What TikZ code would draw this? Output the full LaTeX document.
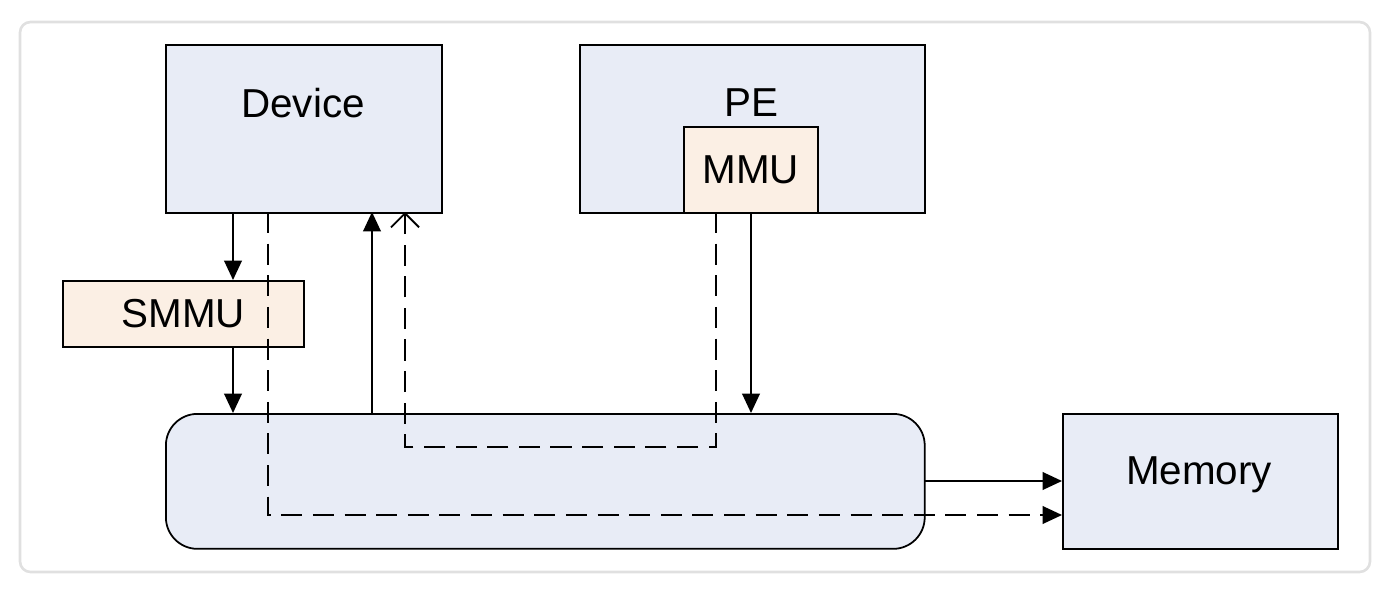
\documentclass[tikz,border=0pt]{standalone}
\usepackage{fontspec}
\setmainfont{Liberation Sans}
\usepackage{tikz}
\usetikzlibrary{arrows.meta}
\definecolor{boxblue}{HTML}{E8ECF6}
\definecolor{boxtan}{HTML}{FBEFE4}
\tikzset{
    blk/.style={draw, line width=1pt, fill=boxblue, inner sep=0pt, font=\fontsize{23}{26}\selectfont},
    tan/.style={draw, line width=1pt, fill=boxtan, inner sep=0pt, font=\fontsize{23}{26}\selectfont},
    arr/.style={line width=1.1pt, -{Triangle[length=11pt, width=10pt]}},
    dashln/.style={line width=1.1pt, dash pattern=on 12pt off 6pt}
}
\begin{document}
\begin{tikzpicture}[x=0.02cm, y=-0.02cm]
    \useasboundingbox (0, 0) rectangle (1390, 592);
    \draw[black!12, line width=1.5pt, rounded corners=6pt] (20, 22) rectangle (1370, 572);

    \node[blk, minimum width=5.52cm, minimum height=3.36cm, anchor=north west] at (165, 44) (dev) {};
    \node at (303, 103) {\fontsize{23}{26}\selectfont Device};
    \node[blk, minimum width=6.9cm, minimum height=3.36cm, anchor=north west] at (579, 44) (pe) {};
    \node at (751, 103) {\fontsize{23}{26}\selectfont PE};
    \node[tan, minimum width=2.68cm, minimum height=1.72cm, anchor=north west] at (683, 126) (mmu) {MMU};
    \node[tan, minimum width=4.82cm, minimum height=1.32cm, anchor=north west] at (62, 280) (smmu) {SMMU};
    \node[blk, rounded corners=18pt, minimum width=15.18cm, minimum height=2.7cm, anchor=north west] at (165, 413) (bus) {};
    \node[blk, minimum width=5.5cm, minimum height=2.7cm, anchor=north west] at (1062, 413) (mem) {};
    \node at (1199, 475) {\fontsize{23}{26}\selectfont Memory};

    \coordinate (d1) at (233, 212);  \coordinate (s1) at (233, 280);
    \coordinate (s2) at (233, 346);  \coordinate (b1) at (233, 413);
    \draw[arr] (d1) -- (s1);
    \draw[arr] (s2) -- (b1);
    \draw[arr] (372, 413) -- (372, 212);
    \draw[arr] (751, 212) -- (751, 413);
    \draw[arr] (924, 481) -- (1062, 481);

    \draw[dashln, -{Straight Barb[length=8pt, width=16pt]}] (716, 212) -- (716, 447) -- (405, 447) -- (405, 212);
    \draw[dashln, -{Triangle[length=11pt, width=10pt]}] (268, 212) -- (268, 515) -- (1062, 515);
\end{tikzpicture}
\end{document}
